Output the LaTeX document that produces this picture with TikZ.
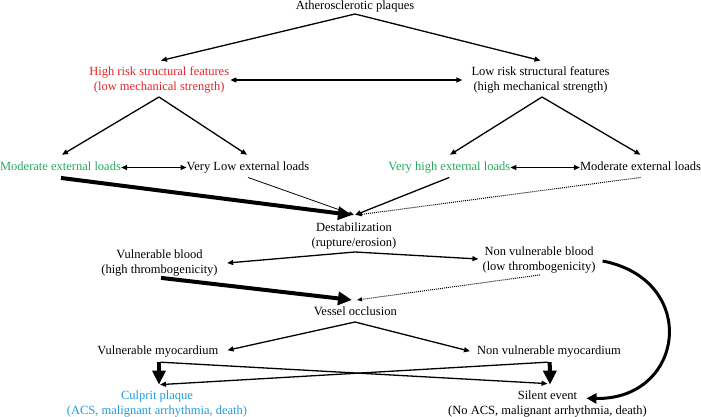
\documentclass[tikz,border=0pt]{standalone}
\usepackage{fontspec}
\setmainfont{Liberation Serif}
\usetikzlibrary{arrows.meta}
\definecolor{riskred}{RGB}{230,35,40}
\definecolor{loadgreen}{RGB}{35,170,90}
\definecolor{culpritblue}{RGB}{30,155,220}
\begin{document}
\begin{tikzpicture}[x=1pt,y=-1pt,
  lbl/.style={inner sep=0pt, font=\rmfamily\fontsize{12.5}{15}\selectfont, align=center},
  one/.style={lbl, text height=8.8pt, text depth=2.7pt},
  arr/.style={line width=1.3pt, -{Triangle[length=6pt,width=5pt]}},
  darr/.style={line width=1.3pt, {Triangle[length=6pt,width=5pt]}-{Triangle[length=6pt,width=5pt]}},
  fatarr/.style={line width=4pt, -{Triangle[length=14pt,width=13pt]}},
  curvearr/.style={line width=3pt, -{Triangle[length=10pt,width=10pt]}},
  thinarr/.style={line width=0.8pt, -{Triangle[length=5pt,width=4pt]}},
  dotarr/.style={line width=1pt, dash pattern=on 1pt off 1pt, -{Triangle[length=5pt,width=4pt]}},
]
\useasboundingbox (0,0) rectangle (701,417);

% nodes
\node[one] (ath) at (355,6.5) {Atherosclerotic plaques};
\node[lbl, text=riskred] (hr) at (159.2,80) {High risk structural features\\(low mechanical strength)};
\node[lbl] (lr) at (540.5,80) {Low risk structural features\\(high mechanical strength)};
\node[one, text=loadgreen] (mel) at (60.5,167.5) {Moderate external loads};
\node[one] (vll) at (248,167.5) {Very Low external loads};
\node[one, text=loadgreen] (vhl) at (449.3,167.5) {Very high external loads};
\node[one] (mer) at (640.5,167.5) {Moderate external loads};
\node[lbl] (des) at (354,235.5) {Destabilization\\(rupture/erosion)};
\node[lbl] (vb) at (159.5,263) {Vulnerable blood\\(high thrombogenicity)};
\node[lbl] (nvb) at (539,260) {Non vulnerable blood\\(low thrombogenicity)};
\node[one] (vo) at (355.3,312.5) {Vessel occlusion};
\node[one] (vm) at (157.8,351.2) {Vulnerable myocardium};
\node[one] (nvm) at (549,351.2) {Non vulnerable myocardium};
\node[lbl, text=culpritblue] (cp) at (157,404) {Culprit plaque\\(ACS, malignant arrhythmia, death)};
\node[lbl] (se) at (547.5,404) {Silent event\\(No ACS, malignant arrhythmia, death)};

% junction points
\coordinate (a1) at (355,14);
\coordinate (b1) at (159,97);
\coordinate (b2) at (542,97);
\coordinate (dtop) at (354,215);
\coordinate (c1) at (355,252);
\coordinate (vtop) at (354,300);
\coordinate (d1) at (355,322);

% level 1
\draw[arr] (a1) -- ([xshift=1.8pt,yshift=6pt]hr.north);
\draw[arr] (a1) -- ([yshift=6pt]lr.north);
\draw[darr] ([xshift=1pt]hr.east) -- ([xshift=-9pt]lr.west);

% level 2
\draw[arr] (b1) -- ([xshift=1.5pt,yshift=6.8pt]mel.north);
\draw[arr] (b1) -- ([xshift=-1pt,yshift=6.8pt]vll.north);
\draw[arr] (b2) -- ([xshift=0.7pt,yshift=6.8pt]vhl.north);
\draw[arr] (b2) -- ([yshift=6.8pt]mer.north);
\draw[darr] (mel.east) -- (vll.west);
\draw[darr] (vhl.east) -- (mer.west);

% to destabilization
\draw[fatarr] ([xshift=0.5pt,yshift=-4.5pt]mel.south) -- ([xshift=-2pt]dtop);
\draw[thinarr] ([yshift=-4pt]vll.south) -- (dtop);
\draw[arr] ([yshift=-4pt]vhl.south) -- ([xshift=1pt]dtop);
\draw[dotarr] ([yshift=-4pt]mer.south) -- ([xshift=3pt]dtop);

% blood
\draw[arr] (c1) -- ([xshift=9.3pt]vb.east);
\draw[arr] (c1) -- ([xshift=-4pt,yshift=1pt]nvb.west);
\draw[fatarr] ([xshift=1.5pt,yshift=-1.5pt]vb.south) -- ([xshift=-2pt]vtop);
\draw[dotarr] ([xshift=1pt,yshift=-1.5pt]nvb.south) -- ([xshift=3pt]vtop);
\draw[curvearr] ([xshift=7pt,yshift=-1pt]nvb.east) .. controls (700,280) and (685,400) .. ([xshift=39pt,yshift=5.7pt]se.center);

% myocardium
\draw[arr] (d1) -- ([xshift=9pt,yshift=1pt]vm.east);
\draw[arr] (d1) -- ([xshift=-7pt]nvm.west);
\draw[fatarr] ([xshift=1.2pt,yshift=-5pt]vm.south) -- ([xshift=2pt,yshift=6pt]cp.north);
\draw[fatarr] ([xshift=0.7pt,yshift=-5pt]nvm.south) -- ([xshift=2.5pt,yshift=6pt]se.north);
\draw[arr] ([xshift=2pt,yshift=-5pt]vm.south) -- ([yshift=7pt]se.north);
\draw[arr] ([xshift=-1pt,yshift=-5pt]nvm.south) -- ([xshift=3pt,yshift=6pt]cp.north);
\end{tikzpicture}
\end{document}
